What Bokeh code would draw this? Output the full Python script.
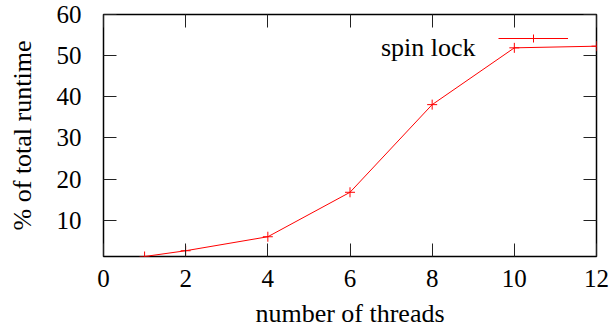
from bokeh.plotting import figure
from bokeh.models import (LinearAxis, FixedTicker, Range1d, Legend, LegendItem,
                          Label)
from bokeh.embed import file_html
from bokeh.resources import INLINE

# ---- data ----
threads = [1, 2, 4, 6, 8, 10, 12]
runtime_pct = [1.2, 2.6, 6.0, 16.8, 38.1, 51.9, 52.3]
x_ticks = [0, 2, 4, 6, 8, 10, 12]
y_ticks = [10, 20, 30, 40, 50, 60]
series_name = "spin lock"
x_title = "number of threads"
y_title = "% of total runtime"

FONT = "Liberation Serif"
RED = "#ff0000"

p = figure(width=609, height=330, output_backend="svg", toolbar_location=None,
           x_range=Range1d(0, 12), y_range=Range1d(1.2, 60),
           x_axis_label=x_title, y_axis_label=y_title,
           min_border_left=103, min_border_right=13, min_border_top=14,
           min_border_bottom=73)
p.background_fill_color = "white"
p.border_fill_color = "white"
p.outline_line_color = "black"
p.outline_line_width = 1.5
p.xgrid.visible = False
p.ygrid.visible = False


def style_axis(ax, ticks, labels=True):
    ax.ticker = FixedTicker(ticks=ticks)
    ax.axis_line_color = None
    ax.major_tick_in = 13
    ax.major_tick_out = 0
    ax.major_tick_line_color = "#222222"
    ax.major_tick_line_width = 1
    ax.minor_tick_line_color = None
    ax.major_label_text_font = FONT
    ax.major_label_text_color = "black"
    ax.axis_label_text_font = FONT
    ax.axis_label_text_font_style = "normal"
    ax.axis_label_text_color = "black"
    if not labels:
        ax.major_label_overrides = {t: "" for t in ticks}
        ax.major_label_text_font_size = "2px"
        ax.major_label_standoff = 0


xa = p.xaxis[0]
ya = p.yaxis[0]
style_axis(xa, x_ticks)
style_axis(ya, y_ticks)
xa.major_label_text_font_size = "25px"
ya.major_label_text_font_size = "25px"
xa.major_label_standoff = 13
ya.major_label_standoff = 22
xa.axis_label_text_font_size = "26px"
ya.axis_label_text_font_size = "26px"
xa.axis_label_standoff = 9
ya.axis_label_standoff = 17

top = LinearAxis()
style_axis(top, x_ticks, labels=False)
right = LinearAxis()
style_axis(right, y_ticks, labels=False)
p.add_layout(top, "above")
p.add_layout(right, "right")

ln = p.line(threads, runtime_pct, line_color=RED, line_width=1)
sc = p.scatter(threads, runtime_pct, marker="cross", size=10,
               line_color=RED, line_width=1)

legend = Legend(items=[LegendItem(label=" ", renderers=[ln, sc])],
                location=(395, 208), glyph_width=70, glyph_height=20,
                padding=0, margin=0, label_width=0, label_standoff=0,
                border_line_alpha=0, background_fill_alpha=0,
                inactive_fill_alpha=0, item_background_fill_alpha=0,
                label_text_font_size="2px")
p.add_layout(legend, "center")

p.add_layout(Label(x=372, y=209, x_units="screen", y_units="screen",
                   text=series_name, text_align="right",
                   text_baseline="alphabetic", text_font=FONT,
                   text_font_size="26px", text_color="black"))

open("out.html", "w").write(file_html(p, INLINE))
